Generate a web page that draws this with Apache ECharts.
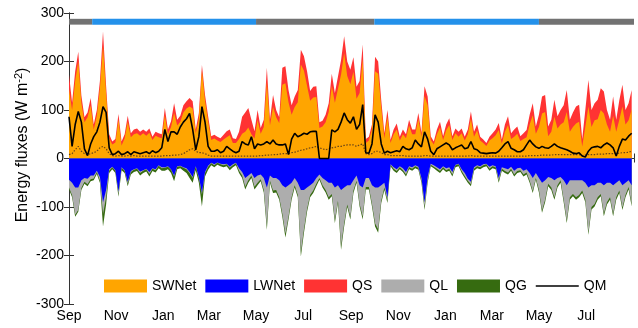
<!DOCTYPE html>
<html>
<head>
<meta charset="utf-8">
<script src="https://cdn.jsdelivr.net/npm/echarts@6/dist/echarts.min.js"></script>
<style>
  html, body { margin: 0; padding: 0; background: #ffffff; }
  #chart { width: 638px; height: 328px; }
</style>
</head>
<body>
<div id="chart"></div>
<script>
// Energy flux components, sampled every 4 days from 1 Sep (W m-2)
const SWNet = [
  143,100,160,200,115,75,85,110,60,88,145,232,135,42,29,33,80,27,42,76,44,50,52,47,52,47,53,38,47,44,42,
  89,50,65,94,68,76,95,103,107,103,52,82,181,119,77,38,41,37,34,39,44,48,32,32,40,51,55,64,50,41,
  80,51,65,157,68,106,85,73,152,155,116,90,106,116,194,181,150,119,126,127,63,66,75,96,150,115,144,173,217,170,153,
  179,123,135,205,32,37,60,180,175,105,42,85,32,50,60,37,50,42,68,50,50,82,45,129,110,38,29,50,64,38,
  58,69,38,52,45,52,37,50,82,45,58,37,32,26,37,42,48,59,31,55,69,40,45,51,36,40,44,70,89,51,
  65,93,96,46,55,86,62,70,75,96,55,65,72,76,25,65,107,65,79,81,100,93,70,55,88,55,80,107,70,79,101
];
const QS = [
  30,15,20,20,15,10,10,15,10,12,15,30,15,8,6,7,12,8,8,12,8,10,10,8,8,8,9,7,8,8,8,
  15,10,12,20,12,12,15,15,18,15,8,12,12,12,10,8,8,8,8,10,12,12,10,8,15,35,40,40,30,15,
  20,12,15,30,12,25,15,12,35,35,25,20,22,25,30,30,30,20,22,22,12,12,15,18,25,20,25,30,35,30,30,
  30,25,25,30,8,8,10,30,25,15,10,15,6,10,12,8,10,8,12,10,10,12,8,20,18,8,6,10,12,8,
  12,14,8,10,10,10,8,10,15,10,12,8,7,6,8,10,12,14,8,15,18,12,15,15,10,12,15,20,25,15,
  25,35,35,20,25,35,25,30,35,45,25,30,35,35,15,35,55,35,35,40,45,45,30,25,40,25,40,45,30,35,40
];
const LWNet = [
  -44,-50,-60,-60,-45,-40,-42,-35,-35,-25,-38,-90,-65,-22,-17,-24,-68,-18,-24,-48,-26,-22,-20,-27,-24,-21,-28,-20,-22,-14,-18,
  -18,-16,-22,-35,-16,-15,-18,-20,-28,-38,-16,-38,-70,-28,-15,-9,-12,-8,-11,-12,-11,-17,-12,-9,-20,-28,-40,-35,-30,-40,
  -35,-33,-40,-60,-35,-40,-40,-45,-55,-60,-55,-50,-40,-50,-65,-65,-60,-55,-50,-40,-33,-40,-45,-50,-50,-60,-55,-65,-60,-55,-55,
  -45,-35,-55,-60,-40,-40,-55,-60,-60,-55,-50,-80,-12,-18,-22,-16,-20,-28,-16,-18,-14,-17,-40,-90,-38,-11,-14,-18,-22,-16,
  -20,-18,-28,-13,-11,-22,-30,-42,-48,-18,-14,-16,-12,-11,-17,-14,-16,-40,-18,-20,-22,-17,-25,-20,-19,-25,-22,-30,-40,-30,
  -40,-50,-45,-38,-40,-45,-40,-38,-45,-55,-45,-45,-45,-45,-45,-50,-60,-55,-55,-50,-50,-55,-50,-50,-55,-50,-45,-55,-50,-45,-55
];
const QL = [
  -16,-26,-56,-46,-16,-8,-11,-8,-6,-3,-8,-25,-15,-3,-1,-1,-6,-1,-1,-4,-2,-1,-1,-3,-1,-1,-4,-1,-2,-1,-2,
  -1,-1,-1,-2,-1,-1,-1,-2,-2,-2,-1,-2,-4,-2,-2,-1,-2,-1,-1,-2,-1,-2,-2,-1,-5,-7,-18,-10,-5,-18,
  -15,-10,-25,-79,-11,-26,-25,-35,-59,-95,-65,-30,-15,-25,-129,-81,-44,-20,-16,-12,-7,-15,-20,-30,-23,-67,-32,-115,-74,-40,-65,
  -21,-11,-39,-60,-19,-19,-39,-74,-86,-32,-10,-6,-1,-3,-4,-2,-4,-5,-2,-3,-2,-2,-6,-10,-8,-2,-3,-3,-4,-2,
  -4,-3,-5,-1,-1,-4,-6,-4,-5,-3,-2,-2,-2,-1,-4,-2,-2,-6,-3,-6,-7,-4,-8,-6,-5,-8,-7,-16,-27,-10,
  -25,-57,-40,-14,-20,-35,-15,-7,-40,-73,-35,-28,-35,-30,-21,-35,-92,-45,-39,-30,-23,-59,-40,-30,-59,-30,-21,-46,-25,-14,-39
];
const QG = [
  -4,-4,-4,-4,-4,-4,-4,-4,-4,-4,-4,-25,-15,-5,-4,-5,-5,-5,-5,-5,-5,-5,-5,-5,-5,-5,-5,-5,-5,-5,-5,
  -6,-5,-7,-10,-5,-4,-6,-8,-10,-10,-7,-10,-25,-7,-6,-4,-4,-4,-4,-4,-4,-5,-4,-4,-5,-5,-6,-5,-5,-6,
  -5,-4,-5,-8,-4,-5,-5,-5,-6,-8,-6,-5,-5,-5,-8,-7,-6,-5,-5,-5,-4,-5,-5,-5,-5,-6,-5,-8,-6,-5,-6,
  -5,-4,-5,-6,-5,-5,-5,-6,-7,-5,-5,-6,-3,-4,-4,-4,-4,-4,-4,-4,-4,-4,-4,-6,-4,-3,-3,-4,-4,-4,
  -4,-4,-4,-4,-4,-4,-4,-4,-4,-4,-4,-4,-4,-4,-4,-4,-4,-4,-4,-4,-4,-4,-4,-4,-4,-4,-4,-4,-4,-4,
  -5,-5,-5,-5,-5,-5,-5,-5,-5,-5,-5,-5,-5,-5,-5,-5,-5,-5,-5,-5,-5,-5,-5,-5,-5,-5,-5,-5,-5,-5,-5
];
const QM = [
  86,25,70,97,75,20,6,30,45,55,75,107,95,22,8,10,15,8,10,14,8,14,12,10,12,14,10,16,12,15,22,
  60,35,55,55,50,65,75,82,93,60,18,45,107,75,25,15,15,18,12,15,25,20,15,12,15,35,30,28,45,20,
  30,28,30,35,30,38,30,28,28,30,8,40,52,45,48,52,50,55,56,56,0,0,0,0,59,55,60,75,94,80,73,
  86,60,70,111,12,11,30,90,75,30,11,15,12,14,16,14,25,20,18,22,38,30,24,55,40,15,8,20,24,28,
  32,28,18,22,25,28,20,22,35,20,18,12,11,10,11,12,11,15,22,30,35,21,18,14,14,18,28,38,30,24,
  21,25,22,21,25,30,25,22,20,18,15,11,10,12,5,3,15,22,24,25,22,28,32,28,22,5,25,40,38,46,52
];
// thin dotted flux drawn inside the shortwave area
const dottedFlux = [
  8,10,18,25,15,10,8,10,12,15,22,25,20,10,6,5,6,5,5,6,5,6,5,5,5,5,5,5,5,5,5,
  6,6,6,7,7,8,10,14,18,20,15,12,12,10,7,5,5,5,5,5,5,5,5,5,5,5,5,5,5,5,
  5,6,6,7,7,8,8,9,10,10,10,12,13,15,17,18,20,22,23,25,22,20,18,20,22,23,25,25,27,28,28,
  28,25,28,30,10,8,10,15,15,12,8,8,6,6,6,6,6,5,5,5,5,5,5,6,6,5,5,5,5,5,
  5,5,5,5,5,5,5,5,6,5,5,5,5,5,5,5,5,5,5,5,5,5,5,5,5,5,5,6,6,6,
  6,7,7,7,7,8,8,8,8,8,8,8,8,8,6,7,8,8,8,9,9,9,10,10,10,10,11,12,12,13,15
];

// Month ticks: days since 1 Sep (second Feb has 29 days)
const monthTickDays = [0, 61, 122, 181, 242, 303, 365, 426, 487, 547, 608, 669, 731];
const monthTickLabels = ['Sep','Nov','Jan','Mar','May','Jul','Sep','Nov','Jan','Mar','May','Jul',''];
// Season strip: boundaries in days and season of each span
const seasonBounds = [0, 30, 242, 395, 608, 731];
const seasonKinds = ['warm', 'cold', 'warm', 'cold', 'warm'];
const seasonStripRange = [276, 288];

const dayStep = 4;
const days = SWNet.map((_, i) => i * dayStep);
const toPairs = arr => arr.map((v, i) => [days[i], v]);
// running totals so that each layer sits on the ones below it
const addArrays = (...arrs) => arrs[0].map((_, i) => arrs.reduce((s, a) => s + a[i], 0));
const posTop = addArrays(SWNet, QS);
const negMid = addArrays(LWNet, QL);
const negBottom = addArrays(LWNet, QL, QG);

const FONT = "'Liberation Sans', Arial, sans-serif";
const seasonColors = { warm: '#727272', cold: '#2491EA' };

const chart = echarts.init(document.getElementById('chart'), null, { renderer: 'canvas' });

function areaSeries(name, data, color) {
  return {
    name, type: 'line', data: toPairs(data),
    symbol: 'none', showSymbol: false,
    color,
    lineStyle: { width: 0 },
    areaStyle: { color, opacity: 1 },
    emphasis: { disabled: true },
    silent: true
  };
}

const seasonAreas = seasonKinds.map((k, i) => [
  { xAxis: seasonBounds[i], yAxis: seasonStripRange[0], itemStyle: { color: seasonColors[k] } },
  { xAxis: seasonBounds[i + 1], yAxis: seasonStripRange[1] }
]);

const tickFmt = v => {
  const i = monthTickDays.indexOf(v);
  return i >= 0 ? monthTickLabels[i] : '';
};

const option = {
  animation: false,
  backgroundColor: '#ffffff',
  grid: { left: 69, right: 4, top: 13, bottom: 24, containLabel: false },
  legend: {
    left: 99, top: 274,
    itemWidth: 43, itemHeight: 13, itemGap: 9,
    textStyle: { fontFamily: FONT, fontSize: 14, color: '#000' },
    selectedMode: false,
    data: [
      { name: 'SWNet', icon: 'rect' },
      { name: 'LWNet', icon: 'rect' },
      { name: 'QS', icon: 'rect' },
      { name: 'QL', icon: 'rect' },
      { name: 'QG', icon: 'rect' },
      { name: 'QM', icon: 'path://M0,0H43V1.6H0Z' }
    ]
  },
  xAxis: [
    {
      type: 'value', min: 0, max: 731, position: 'bottom',
      axisLine: { lineStyle: { color: '#333', width: 1 } },
      axisTick: { inside: true, length: 5, customValues: monthTickDays, lineStyle: { color: '#333' } },
      axisLabel: { customValues: monthTickDays.slice(0, -1), formatter: tickFmt,
                   fontFamily: FONT, fontSize: 14, color: '#000', margin: 5 },
      splitLine: { show: false }
    },
    {
      type: 'value', min: 0, max: 731, position: 'top',
      axisLine: { show: true, lineStyle: { color: '#333', width: 1 } },
      axisTick: { show: true, inside: true, length: 4, customValues: monthTickDays, lineStyle: { color: '#333' } },
      axisLabel: { show: false },
      splitLine: { show: false }
    }
  ],
  yAxis: [
    {
      type: 'value', min: -300, max: 300, interval: 100, position: 'left',
      axisLine: { show: true, lineStyle: { color: '#333', width: 1 } },
      axisTick: { show: true, inside: true, length: 5, lineStyle: { color: '#333' } },
      axisLabel: { fontFamily: FONT, fontSize: 14, color: '#000', margin: 5 },
      splitLine: { show: false }
    },
    {
      type: 'value', min: -300, max: 300, interval: 100, position: 'right',
      axisLine: { show: true, lineStyle: { color: '#333', width: 1 } },
      axisTick: { show: true, inside: true, length: 5, lineStyle: { color: '#333' } },
      axisLabel: { show: false },
      splitLine: { show: false }
    }
  ],
  graphic: [{
    type: 'text', x: 23, y: 145, rotation: Math.PI / 2,
    style: {
      text: 'Energy fluxes (W m{sup|-2})',
      fill: '#000', font: '16px ' + FONT,
      align: 'center', verticalAlign: 'middle',
      rich: { sup: { fontSize: 11, fontFamily: FONT, verticalAlign: 'top', padding: [0, 0, 8, 0] } }
    }
  }],
  series: [
    areaSeries('QS', posTop, '#FF3333'),
    areaSeries('SWNet', SWNet, '#FFA500'),
    areaSeries('QG', negBottom, '#366B10'),
    areaSeries('QL', negMid, '#ADADAD'),
    areaSeries('LWNet', LWNet, '#0000FF'),
    {
      name: 'dotted', type: 'line', data: toPairs(dottedFlux),
      symbol: 'none', color: '#6A4516',
      lineStyle: { width: 1.2, type: [1.5, 1.5], color: '#6A4516' },
      silent: true
    },
    {
      name: 'QM', type: 'line', data: toPairs(QM),
      symbol: 'none', color: '#000000',
      lineStyle: { width: 1.6, color: '#000000' },
      silent: true,
      markArea: { silent: true, data: seasonAreas }
    }
  ]
};

chart.setOption(option);
</script>
</body>
</html>
